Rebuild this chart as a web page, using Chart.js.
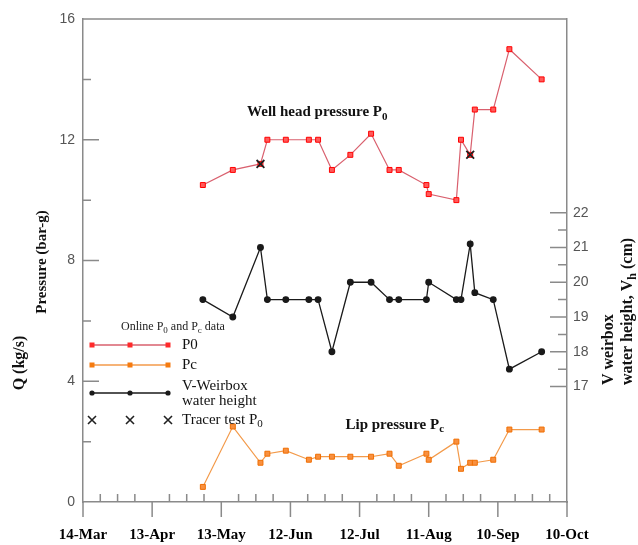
<!DOCTYPE html>
<html>
<head>
<meta charset="utf-8">
<script src="https://cdn.jsdelivr.net/npm/chart.js@4"></script>
<style>
  html, body { margin: 0; padding: 0; background: #fff; }
  #wrap { width: 638px; height: 545px; }
</style>
</head>
<body>
<div id="wrap"><canvas id="myChart" width="638" height="545"></canvas></div>
<script>
// sampling dates (day-month), all in the same season
const sampleDates = ['5-May', '18-May', '30-May', '2-Jun', '10-Jun', '20-Jun', '24-Jun', '30-Jun', '8-Jul', '17-Jul', '25-Jul',
  '29-Jul', '10-Aug', '11-Aug', '23-Aug', '25-Aug', '29-Aug', '31-Aug', '8-Sep', '15-Sep', '29-Sep'];
// well head pressure P0 (bar-g)
const p0 = [10.5, 11.0, 11.2, 12.0, 12.0, 12.0, 12.0, 11.0, 11.5, 12.2, 11.0, 11.0, 10.5, 10.2, 10.0, 12.0, 11.5, 13.0, 13.0, 15.0, 14.0];
// lip pressure Pc (bar-g)
const pc = [0.5, 2.5, 1.3, 1.6, 1.7, 1.4, 1.5, 1.5, 1.5, 1.5, 1.6, 1.2, 1.6, 1.4, 2.0, 1.1, 1.3, 1.3, 1.4, 2.4, 2.4];
// V-weirbox water height (cm), right axis
const weirbox = [19.5, 19.0, 21.0, 19.5, 19.5, 19.5, 19.5, 18.0, 20.0, 20.0, 19.5, 19.5, 19.5, 20.0, 19.5, 19.5, 21.1, 19.7, 19.5, 17.5, 18.0];
// tracer test P0
const tracerDates = ['30-May', '29-Aug'];
const tracerP0 = [11.2, 11.5];

const xTickLabels = ['14-Mar', '13-Apr', '13-May', '12-Jun', '12-Jul', '11-Aug', '10-Sep', '10-Oct'];
const yTickValues = [0, 4, 8, 12, 16];
const y2TickValues = [17, 18, 19, 20, 21, 22];

const MONTHS = ['Jan', 'Feb', 'Mar', 'Apr', 'May', 'Jun', 'Jul', 'Aug', 'Sep', 'Oct', 'Nov', 'Dec'];
// days since 14-Mar
function dayOf(s) {
  const [d, m] = s.split('-');
  return (Date.UTC(2007, MONTHS.indexOf(m), +d) - Date.UTC(2007, 2, 14)) / 864e5;
}
const pts = (dates, vals) => dates.map((d, i) => ({ x: dayOf(d), y: vals[i] }));

const SERIF = '"Liberation Serif", "Times New Roman", serif';
const SANS = '"Liberation Sans", Arial, sans-serif';
const AXIS = '#8a8a8a';

function rich(ctx, parts, x, y, size, bold) {
  let cx = x;
  for (const [t, sub] of parts) {
    ctx.font = (bold ? 'bold ' : '') + (sub ? Math.round(size * 0.75) : size) + 'px ' + SERIF;
    ctx.fillText(t, cx, sub ? y + size * 0.28 : y);
    cx += ctx.measureText(t).width;
  }
  return cx - x;
}
function richWidth(ctx, parts, size, bold) {
  let w = 0;
  for (const [t, sub] of parts) {
    ctx.font = (bold ? 'bold ' : '') + (sub ? Math.round(size * 0.75) : size) + 'px ' + SERIF;
    w += ctx.measureText(t).width;
  }
  return w;
}

const ticksPlugin = {
  id: 'ticksPlugin',
  beforeDatasetsDraw(chart) {
    const { ctx, chartArea: a, scales } = chart;
    ctx.save();
    ctx.strokeStyle = AXIS;
    ctx.lineWidth = 1.5;
    ctx.beginPath();
    // top frame line
    ctx.moveTo(a.left, a.top); ctx.lineTo(a.right, a.top);
    // x ticks: majors outside, minors inside
    for (let d = 0; d <= 210; d += 7.5) {
      const px = scales.x.getPixelForValue(d);
      if (d % 30 === 0) { ctx.moveTo(px, a.bottom); ctx.lineTo(px, a.bottom + 15); }
      else { ctx.moveTo(px, a.bottom); ctx.lineTo(px, a.bottom - 8); }
    }
    // left ticks inside
    for (let v = 2; v < 16; v += 2) {
      const py = scales.y.getPixelForValue(v);
      ctx.moveTo(a.left, py); ctx.lineTo(a.left + (v % 4 === 0 ? 16 : 8), py);
    }
    // right ticks inside
    for (let v = 17; v <= 22; v += 0.5) {
      const py = scales.y2.getPixelForValue(v);
      ctx.moveTo(a.right, py); ctx.lineTo(a.right - (Number.isInteger(v) ? 17 : 9), py);
    }
    ctx.stroke();
    ctx.restore();
  },
  afterDraw(chart) {
    const { ctx, chartArea: a, scales } = chart;
    ctx.save();
    ctx.fillStyle = '#111';
    ctx.textBaseline = 'middle';
    ctx.textAlign = 'left';

    // annotations
    rich(ctx, [['Well head pressure P', false], ['0', true]],
      scales.x.getPixelForValue(71.2), scales.y.getPixelForValue(12.9), 15, true);
    rich(ctx, [['Lip pressure P', false], ['c', true]],
      scales.x.getPixelForValue(113.9), scales.y.getPixelForValue(2.54), 15, true);

    // legend
    const lx0 = a.left + 9, lx1 = a.left + 85, lxm = (lx0 + lx1) / 2, tx = a.left + 99;
    ctx.fillStyle = '#222';
    rich(ctx, [['Online P', false], ['0', true], [' and P', false], ['c', true], [' data', false]], 121, 327, 12, false);
    const rows = [
      { y: 345, line: '#d9606e', fill: '#ff2a2a', shape: 'rect', label: [['P0', false]] },
      { y: 365, line: '#f39a4a', fill: '#f57b10', shape: 'rect', label: [['Pc', false]] },
      { y: 393, line: '#1a1a1a', fill: '#1a1a1a', shape: 'circle', label: null },
      { y: 420, line: null, fill: '#202020', shape: 'cross', label: [['Tracer test P', false], ['0', true]] }
    ];
    for (const r of rows) {
      if (r.line) {
        ctx.strokeStyle = r.line; ctx.lineWidth = 1.3;
        ctx.beginPath(); ctx.moveTo(lx0, r.y); ctx.lineTo(lx1, r.y); ctx.stroke();
      }
      for (const mx of [lx0, lxm, lx1]) {
        if (r.shape === 'rect') { ctx.fillStyle = r.fill; ctx.fillRect(mx - 2.5, r.y - 2.5, 5, 5); }
        else if (r.shape === 'circle') { ctx.fillStyle = r.fill; ctx.beginPath(); ctx.arc(mx, r.y, 2.6, 0, Math.PI * 2); ctx.fill(); }
        else {
          ctx.strokeStyle = r.fill; ctx.lineWidth = 1.6; ctx.beginPath();
          ctx.moveTo(mx - 4, r.y - 4); ctx.lineTo(mx + 4, r.y + 4);
          ctx.moveTo(mx + 4, r.y - 4); ctx.lineTo(mx - 4, r.y + 4); ctx.stroke();
        }
      }
      ctx.fillStyle = '#111';
      if (r.label) rich(ctx, r.label, tx, r.y, 15, false);
    }
    ctx.font = '15px ' + SERIF;
    ctx.fillText('V-Weirbox', tx, 386.5);
    ctx.fillText('water height', tx, 401);

    // axis titles
    ctx.fillStyle = '#111';
    const vtext = (parts, cx, cy, size, align) => {
      ctx.save();
      ctx.translate(cx, cy);
      ctx.rotate(-Math.PI / 2);
      const w = richWidth(ctx, parts, size, true);
      rich(ctx, parts, align === 'center' ? -w / 2 : 0, 0, size, true);
      ctx.restore();
    };
    vtext([['Pressure (bar-g)', false]], 42, 262, 15, 'center');
    vtext([['Q (kg/s)', false]], 20, 363, 16, 'center');
    vtext([['V weirbox', false]], 609, 385, 16, 'left');
    vtext([['water height, V', false], ['h', true], [' (cm)', false]], 628, 385, 16, 'left');
    ctx.restore();
  }
};

const config = {
  type: 'scatter',
  data: {
    datasets: [
      {
        label: 'Tracer test P0',
        data: pts(tracerDates, tracerP0),
        yAxisID: 'y',
        showLine: false,
        pointStyle: 'crossRot',
        pointRadius: 5.5,
        borderColor: '#202020',
        borderWidth: 1.8,
        order: 0
      },
      {
        label: 'P0',
        data: pts(sampleDates, p0),
        yAxisID: 'y',
        showLine: true,
        borderColor: '#d9606e',
        borderWidth: 1.2,
        pointStyle: 'rect',
        pointRadius: 3.5,
        pointBackgroundColor: '#ff5a5a',
        pointBorderColor: '#ff0000',
        pointBorderWidth: 1,
        order: 1
      },
      {
        label: 'Pc',
        data: pts(sampleDates, pc),
        yAxisID: 'y',
        showLine: true,
        borderColor: '#f39a4a',
        borderWidth: 1.2,
        pointStyle: 'rect',
        pointRadius: 3.5,
        pointBackgroundColor: '#f89040',
        pointBorderColor: '#f06e00',
        pointBorderWidth: 1,
        order: 2
      },
      {
        label: 'V-Weirbox water height',
        data: pts(sampleDates, weirbox),
        yAxisID: 'y2',
        showLine: true,
        borderColor: '#1a1a1a',
        borderWidth: 1.3,
        pointStyle: 'circle',
        pointRadius: 2.8,
        pointBackgroundColor: '#1a1a1a',
        pointBorderColor: '#1a1a1a',
        order: 3
      }
    ]
  },
  options: {
    responsive: false,
    animation: false,
    layout: { padding: { top: 19 } },
    plugins: { legend: { display: false }, tooltip: { enabled: false } },
    scales: {
      x: {
        type: 'linear',
        min: 0,
        max: 210,
        afterBuildTicks: s => { s.ticks = xTickLabels.map(l => ({ value: dayOf(l) })); },
        afterFit: s => { s.height = 43; },
        grid: { display: false, drawTicks: false },
        border: { display: true, color: AXIS, width: 1.5 },
        ticks: {
          padding: 24,
          autoSkip: false,
          maxRotation: 0,
          color: '#000',
          font: { family: SERIF, weight: 'bold', size: 15 },
          callback: v => xTickLabels.find(l => dayOf(l) === v) || ''
        }
      },
      y: {
        position: 'left',
        min: 0,
        max: 16,
        afterBuildTicks: s => { s.ticks = yTickValues.map(v => ({ value: v })); },
        afterFit: s => { s.width = 83; },
        grid: { display: false, drawTicks: false },
        border: { display: true, color: AXIS, width: 1.5 },
        ticks: { padding: 8, color: '#555', font: { family: SANS, size: 14 } }
      },
      y2: {
        position: 'right',
        min: 13.68,
        max: 27.57,
        afterBuildTicks: s => { s.ticks = y2TickValues.map(v => ({ value: v })); },
        afterFit: s => { s.width = 71; },
        grid: { display: false, drawTicks: false },
        border: { display: true, color: AXIS, width: 1.5 },
        ticks: { padding: 6, autoSkip: false, color: '#555', font: { family: SANS, size: 14 } }
      }
    }
  },
  plugins: [ticksPlugin]
};

const ctx = document.getElementById('myChart').getContext('2d');
const myChart = new Chart(ctx, config);
</script>
</body>
</html>
